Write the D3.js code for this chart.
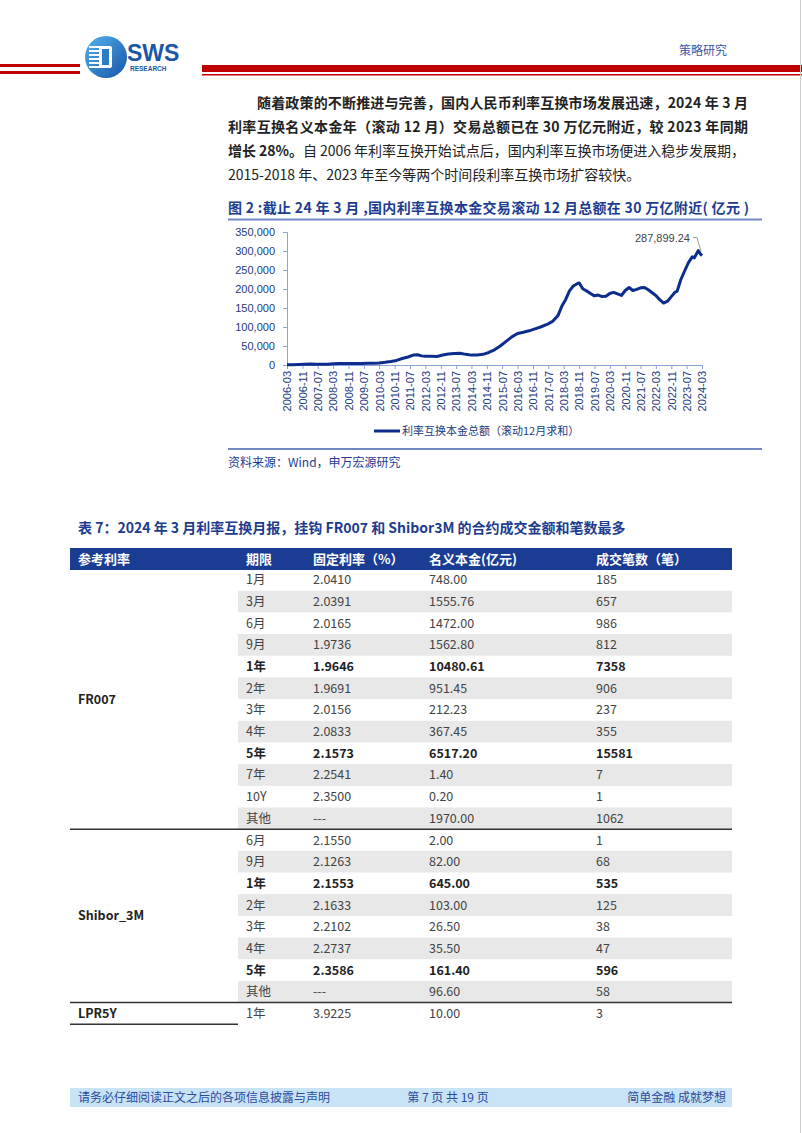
<!DOCTYPE html>
<html><head><meta charset="utf-8">
<script src="https://cdn.jsdelivr.net/npm/d3@7"></script>
<style>body{margin:0;background:#fff}svg{display:block}</style>
</head><body>
<script>
// ---------- data ----------
const lineDates = ["2006-03","2006-06","2006-09","2006-12","2007-03","2007-06","2007-09","2007-12","2008-03","2008-06","2008-09","2008-12","2009-03","2009-06","2009-09","2009-12","2010-03","2010-06","2010-09","2010-12","2011-03","2011-06","2011-09","2011-11","2012-01","2012-03","2012-06","2012-09","2012-12","2013-03","2013-06","2013-09","2013-12","2014-03","2014-06","2014-09","2014-12","2015-03","2015-06","2015-09","2015-12","2016-03","2016-06","2016-09","2016-12","2017-03","2017-06","2017-09","2017-12","2018-02","2018-04","2018-06","2018-08","2018-10","2018-11","2019-01","2019-03","2019-05","2019-07","2019-09","2019-11","2020-01","2020-03","2020-05","2020-07","2020-09","2020-11","2021-01","2021-03","2021-05","2021-07","2021-09","2021-11","2022-01","2022-03","2022-05","2022-07","2022-09","2022-11","2023-01","2023-02","2023-04","2023-06","2023-08","2023-10","2023-11","2024-01","2024-02","2024-03"];
const lineValues = [355,800,1500,2100,2400,2000,2000,2200,3000,3800,4200,4100,3800,4000,4300,4600,5500,7000,9000,12000,17000,21000,26500,27000,24000,23000,23000,22500,26500,29000,30500,31000,28000,26000,26500,28000,33000,40000,50000,62000,74000,83000,86000,90000,95000,100000,106000,114000,130000,155000,172000,195000,208000,214000,216000,200000,195000,188000,182000,184000,180000,181000,188000,191000,187000,183000,196000,204000,196000,199000,203000,204000,198000,190000,183000,172000,163000,168000,180000,192000,194000,225000,248000,270000,285000,282000,301000,293000,287899.24];
const yTicks = [0,50000,100000,150000,200000,250000,300000,350000];
const xTickLabels = ["2006-03","2006-11","2007-07","2008-03","2008-11","2009-07","2010-03","2010-11","2011-07","2012-03","2012-11","2013-07","2014-03","2014-11","2015-07","2016-03","2016-11","2017-07","2018-03","2018-11","2019-07","2020-03","2020-11","2021-07","2022-03","2022-11","2023-07","2024-03"];
const seriesName = "利率互换本金总额（滚动12月求和）";
const lastLabel = "287,899.24";

const tableHeaders = ["参考利率","期限","固定利率（%）","名义本金(亿元)","成交笔数（笔）"];
const tableGroups = ["FR007","Shibor_3M","LPR5Y"];
const groupSizes = [12,8,1];
const tableTenors = ["1月","3月","6月","9月","1年","2年","3年","4年","5年","7年","10Y","其他","6月","9月","1年","2年","3年","4年","5年","其他","1年"];
const tableRates = ["2.0410","2.0391","2.0165","1.9736","1.9646","1.9691","2.0156","2.0833","2.1573","2.2541","2.3500","---","2.1550","2.1263","2.1553","2.1633","2.2102","2.2737","2.3586","---","3.9225"];
const tableNotional = ["748.00","1555.76","1472.00","1562.80","10480.61","951.45","212.23","367.45","6517.20","1.40","0.20","1970.00","2.00","82.00","645.00","103.00","26.50","35.50","161.40","96.60","10.00"];
const tableCounts = ["185","657","986","812","7358","906","237","355","15581","7","1","1062","1","68","535","125","38","47","596","58","3"];
const boldRows = [4,8,14,18];

// ---------- page ----------
const W = 802, H = 1133;
const CJK = "'Noto Sans CJK SC','Noto Sans',sans-serif";
const LAT = "'Liberation Sans',Arial,sans-serif";
const NAVY = "#1d3c8f";
const svg = d3.select("body").append("svg").attr("width", W).attr("height", H);

// header
const defs = svg.append("defs");
const lg = defs.append("linearGradient").attr("id","lg").attr("x1","0").attr("y1","0").attr("x2","1").attr("y2","1");
lg.append("stop").attr("offset","0").attr("stop-color","#54b4ee");
lg.append("stop").attr("offset","1").attr("stop-color","#1553a6");
svg.append("rect").attr("x",0).attr("y",64).attr("width",80).attr("height",3).attr("fill","#c00000");
svg.append("rect").attr("x",0).attr("y",71).attr("width",80).attr("height",3).attr("fill","#c00000");
svg.append("rect").attr("x",202).attr("y",65).attr("width",600).attr("height",7).attr("fill","#c00000");
svg.append("rect").attr("x",202).attr("y",74).attr("width",600).attr("height",1.5).attr("fill","#c00000");
svg.append("circle").attr("cx",106).attr("cy",57).attr("r",21).attr("fill","url(#lg)");
d3.range(6).forEach(i => svg.append("rect").attr("x",89).attr("y",46+i*4).attr("width",12).attr("height",2).attr("fill","#fff"));
svg.append("rect").attr("x",99).attr("y",46).attr("width",13).attr("height",22).attr("rx",2).attr("fill","#fff");
svg.append("rect").attr("x",102).attr("y",49).attr("width",7).attr("height",16).attr("fill","#2a7cc8");
svg.append("text").attr("x",127).attr("y",61).text("SWS").attr("font-family",LAT).attr("font-weight","bold").attr("font-size",23).attr("fill","#1a57a8");
svg.append("text").attr("x",130).attr("y",71).text("RESEARCH").attr("font-family",LAT).attr("font-weight","bold").attr("font-size",6.5).attr("fill","#1a57a8");
svg.append("text").attr("x",727).attr("y",55).attr("text-anchor","end").text("策略研究").attr("font-family",CJK).attr("font-size",12).attr("fill","#3d56a6");

// paragraph
const para = [
  {x:257, y:108, len:491, parts:[["随着政策的不断推进与完善，国内人民币利率互换市场发展迅速，2024 年 3 月","bold"]]},
  {x:228, y:132, len:520, parts:[["利率互换名义本金年（滚动 12 月）交易总额已在 30 万亿元附近，较 2023 年同期","bold"]]},
  {x:228, y:156, len:517, parts:[["增长 28%。","bold"],["自 2006 年利率互换开始试点后，国内利率互换市场便进入稳步发展期，","normal"]]},
  {x:228, y:180, len:null, parts:[["2015-2018 年、2023 年至今等两个时间段利率互换市场扩容较快。","normal"]]}
];
para.forEach(p => {
  const t = svg.append("text").attr("x",p.x).attr("y",p.y).attr("font-family",CJK).attr("font-size",14).attr("fill","#222");
  if (p.len) t.attr("textLength",p.len).attr("lengthAdjust","spacing");
  p.parts.forEach(([s,w]) => t.append("tspan").attr("font-weight",w).text(s));
});

// figure title
svg.append("text").attr("x",228).attr("y",213).attr("font-family",CJK).attr("font-size",14).attr("font-weight","bold").attr("fill",NAVY)
  .attr("textLength",521).attr("lengthAdjust","spacing")
  .text("图 2 :截止 24 年 3 月 ,国内利率互换本金交易滚动 12 月总额在 30 万亿附近( 亿元 )");
svg.append("line").attr("x1",228).attr("x2",762).attr("y1",219.5).attr("y2",219.5).attr("stroke","#7088c4").attr("stroke-width",2);

// chart
const parse = d3.timeParse("%Y-%m");
const x = d3.scaleTime().domain([parse("2006-03"), parse("2024-03")]).range([287, 702]);
const y = d3.scaleLinear().domain([0,350000]).range([365, 232]);
const AX = "#8aa4d6";
const yAxis = svg.append("g").attr("transform","translate(287,0)")
  .call(d3.axisLeft(y).tickValues(yTicks).tickFormat(d3.format(",")).tickSize(4).tickPadding(8));
const xAxis = svg.append("g").attr("transform","translate(0,365)")
  .call(d3.axisBottom(x).tickValues(xTickLabels.map(parse)).tickFormat(d3.timeFormat("%Y-%m")).tickSize(4));
[yAxis,xAxis].forEach(g => { g.selectAll("path,line").attr("stroke",AX); g.selectAll("text").attr("font-family",LAT).attr("font-size",11).attr("fill","#233a80"); });
xAxis.selectAll("text").attr("text-anchor","end").attr("transform","rotate(-90)").attr("x",-6).attr("y",0).attr("dy","0.35em");

const pts = lineDates.map((d,i) => [parse(d), lineValues[i]]);
svg.append("path").datum(pts).attr("fill","none").attr("stroke","#0d2d8e").attr("stroke-width",3).attr("stroke-linejoin","round")
  .attr("d", d3.line().x(d => x(d[0])).y(d => y(d[1])));

// last value annotation
const lp = pts[pts.length-1];
const lx = x(lp[0]), ly = y(lp[1]);
svg.append("path").attr("fill","none").attr("stroke","#999").attr("stroke-width",1)
  .attr("d", `M${lx-9},${ly-18}H${lx-5}L${lx-1},${ly-4}`);
svg.append("text").attr("x",lx-12).attr("y",ly-14).attr("text-anchor","end").attr("font-family",LAT).attr("font-size",11).attr("fill","#444").text(lastLabel);

// legend
svg.append("line").attr("x1",374).attr("x2",400).attr("y1",431).attr("y2",431).attr("stroke","#0d2d8e").attr("stroke-width",3);
svg.append("text").attr("x",402).attr("y",435).attr("font-family",CJK).attr("font-size",11).attr("fill","#233a80").text(seriesName);

// source
svg.append("line").attr("x1",228).attr("x2",762).attr("y1",449).attr("y2",449).attr("stroke","#7088c4").attr("stroke-width",2);
svg.append("text").attr("x",228).attr("y",467).attr("font-family",CJK).attr("font-size",12).attr("fill",NAVY).text("资料来源：Wind，申万宏源研究");

// table title
svg.append("text").attr("x",78).attr("y",533).attr("font-family",CJK).attr("font-size",14).attr("font-weight","bold").attr("fill",NAVY)
  .text("表 7：2024 年 3 月利率互换月报，挂钩 FR007 和 Shibor3M 的合约成交金额和笔数最多");

// table
const colX = [78,246,313,429,596];
svg.append("rect").attr("x",70).attr("y",548).attr("width",662).attr("height",22).attr("fill","#1b3c93");
tableHeaders.forEach((h,i) => svg.append("text").attr("x",colX[i]).attr("y",564).attr("font-family",CJK).attr("font-size",13).attr("font-weight","bold").attr("fill","#fff").text(h));

const rowH = 21.68, top0 = 569;
const ry = d3.scaleLinear().domain([0,1]).range([top0, top0+rowH]);
const gOf = [];
groupSizes.forEach((n,g) => { for (let k=0;k<n;k++) gOf.push([g,k]); });
tableTenors.forEach((t,i) => {
  const [g,k] = gOf[i];
  if (k % 2 === 1) svg.append("rect").attr("x",238).attr("y",ry(i)).attr("width",494).attr("height",rowH).attr("fill","#e8e8e8");
});
tableTenors.forEach((t,i) => {
  const bold = boldRows.includes(i);
  const cy = ry(i) + rowH/2 + 4.5;
  [t, tableRates[i], tableNotional[i], tableCounts[i]].forEach((v,c) =>
    svg.append("text").attr("x",colX[c+1]).attr("y",cy).attr("font-family",CJK).attr("font-size",12.5)
      .attr("font-weight", bold ? "bold" : "normal").attr("fill", bold ? "#222" : "#444").text(v));
});
let start = 0;
groupSizes.forEach((n,g) => {
  const mid = ry(start + n/2);
  svg.append("text").attr("x",78).attr("y",mid+4.5).attr("font-family",CJK).attr("font-size",12.5).attr("font-weight","bold").attr("fill","#222").text(tableGroups[g]);
  const endY = ry(start+n);
  svg.append("line").attr("x1",70).attr("x2", g === groupSizes.length-1 ? 238 : 732).attr("y1",endY).attr("y2",endY).attr("stroke","#333").attr("stroke-width",1.5);
  start += n;
});

// footer
svg.append("rect").attr("x",70).attr("y",1088).attr("width",662).attr("height",19).attr("fill","#c8e3f6");
svg.append("text").attr("x",78).attr("y",1102).attr("font-family",CJK).attr("font-size",12).attr("fill","#2b4a9c").text("请务必仔细阅读正文之后的各项信息披露与声明");
svg.append("text").attr("x",448).attr("y",1102).attr("text-anchor","middle").attr("font-family",CJK).attr("font-size",12).attr("fill","#2b4a9c").text("第 7 页 共 19 页");
svg.append("text").attr("x",726).attr("y",1102).attr("text-anchor","end").attr("font-family",CJK).attr("font-size",12).attr("fill","#2b4a9c").text("简单金融 成就梦想");
svg.append("line").attr("x1",800.5).attr("x2",800.5).attr("y1",0).attr("y2",H).attr("stroke","#ccc");
</script>
</body></html>
